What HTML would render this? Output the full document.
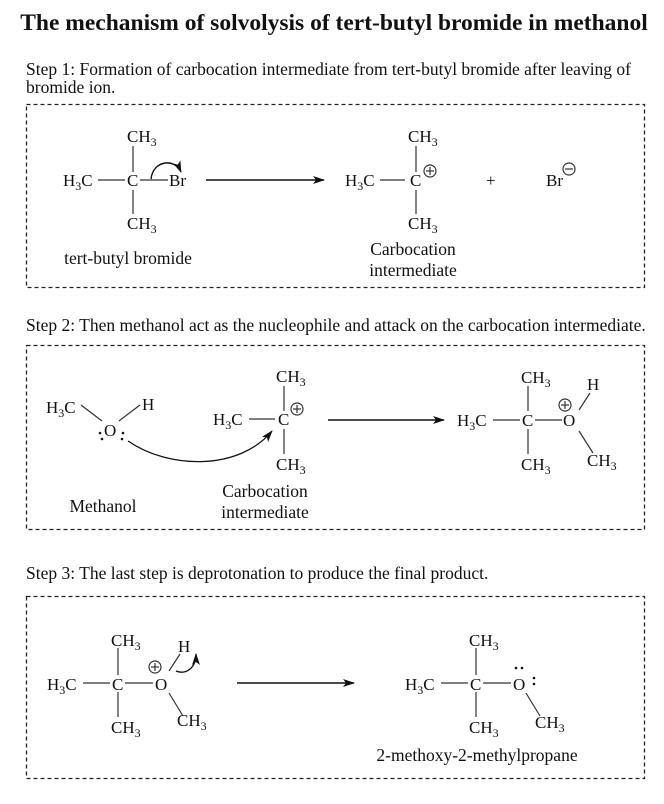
<!DOCTYPE html>
<html><head><meta charset="utf-8"><style>
html,body{margin:0;padding:0;background:#fff;}
svg{display:block;font-family:"Liberation Serif",serif;}
text{fill:#111;}
.a{font-size:17px;}
.s{font-size:12px;}
.t{font-size:17.5px;}
</style></head><body>
<svg width="664" height="804" viewBox="0 0 664 804" xmlns="http://www.w3.org/2000/svg">
<defs><marker id="ah" markerWidth="12" markerHeight="8" refX="11" refY="4" orient="auto" markerUnits="userSpaceOnUse"><path d="M0,0 L12,4 L0,8 L3,4z" fill="#111"/></marker></defs>
<text x="334" y="30" text-anchor="middle" font-size="23.5" font-weight="bold">The mechanism of solvolysis of tert-butyl bromide in methanol</text>
<text class="t" x="26" y="75">Step 1: Formation of carbocation intermediate from tert-butyl bromide after leaving of</text>
<text class="t" x="26" y="93">bromide ion.</text>
<rect x="26.5" y="104.5" width="618" height="183" fill="none" stroke="#222" stroke-width="1.3" stroke-dasharray="4,3"/>
<g stroke="#333" stroke-width="1.2" fill="none">
<line x1="98" y1="180" x2="125" y2="180"/><line x1="140" y1="180" x2="168" y2="180"/>
<line x1="133" y1="146" x2="133" y2="172"/><line x1="133" y1="190" x2="133" y2="214"/>
<path d="M151,179 C153,160 175,158 181,172" stroke="#111" stroke-width="1.4" marker-end="url(#ah)"/>
<line x1="206" y1="180" x2="324" y2="180" stroke="#111" stroke-width="1.5" marker-end="url(#ah)"/>
<line x1="380" y1="180" x2="405" y2="180"/>
<line x1="416" y1="146" x2="416" y2="172"/><line x1="416" y1="190" x2="416" y2="214"/>
<circle cx="430" cy="171" r="6"/><line x1="426" y1="171" x2="434" y2="171"/><line x1="430" y1="167" x2="430" y2="175"/>
<circle cx="569" cy="169" r="6"/><line x1="565" y1="169" x2="573" y2="169"/>
</g>
<text class="a" x="63" y="186">H<tspan class="s" dy="4">3</tspan><tspan dy="-4">C</tspan></text>
<text class="a" x="127" y="186">C</text>
<text class="a" x="169" y="186">Br</text>
<text class="a" x="127" y="142">CH<tspan class="s" dy="4">3</tspan></text>
<text class="a" x="127" y="229">CH<tspan class="s" dy="4">3</tspan></text>
<text class="a" x="345" y="186">H<tspan class="s" dy="4">3</tspan><tspan dy="-4">C</tspan></text>
<text class="a" x="410" y="186">C</text>
<text class="a" x="408" y="142">CH<tspan class="s" dy="4">3</tspan></text>
<text class="a" x="408" y="229">CH<tspan class="s" dy="4">3</tspan></text>
<text class="a" x="486" y="186">+</text>
<text class="a" x="546" y="186">Br</text>
<text class="t" x="128" y="264" text-anchor="middle">tert-butyl bromide</text>
<text class="t" x="413" y="255" text-anchor="middle">Carbocation</text>
<text class="t" x="413" y="276" text-anchor="middle">intermediate</text>

<text class="t" x="26" y="331">Step 2: Then methanol act as the nucleophile and attack on the carbocation intermediate.</text>
<rect x="26.5" y="345.5" width="618" height="184" fill="none" stroke="#222" stroke-width="1.3" stroke-dasharray="4,3"/>
<g stroke="#333" stroke-width="1.2" fill="none">
<line x1="81" y1="405" x2="102" y2="421"/><line x1="119" y1="421" x2="140" y2="405"/>
<path d="M128,441 C170,470 240,470 272,431" stroke="#111" stroke-width="1.3" marker-end="url(#ah)"/>
<line x1="249" y1="419" x2="275" y2="419"/>
<line x1="284" y1="386" x2="284" y2="411"/><line x1="284" y1="429" x2="284" y2="454"/>
<circle cx="297" cy="409" r="6"/><line x1="293" y1="409" x2="301" y2="409"/><line x1="297" y1="405" x2="297" y2="413"/>
<line x1="328" y1="420" x2="444" y2="420" stroke="#111" stroke-width="1.5" marker-end="url(#ah)"/>
<line x1="493" y1="420" x2="520" y2="420"/><line x1="535" y1="420" x2="562" y2="420"/>
<line x1="528" y1="386" x2="528" y2="411"/><line x1="528" y1="429" x2="528" y2="454"/>
<line x1="579" y1="410" x2="590" y2="393"/><line x1="579" y1="431" x2="593" y2="453"/>
<circle cx="565" cy="405" r="6"/><line x1="561" y1="405" x2="569" y2="405"/><line x1="565" y1="401" x2="565" y2="409"/>
</g>
<g fill="#111"><circle cx="100" cy="433" r="1.3"/><circle cx="102" cy="439" r="1.3"/><circle cx="123" cy="433" r="1.3"/><circle cx="122" cy="439" r="1.3"/></g>
<text class="a" x="46" y="413">H<tspan class="s" dy="4">3</tspan><tspan dy="-4">C</tspan></text>
<text class="a" x="104" y="436">O</text>
<text class="a" x="142" y="410">H</text>
<text class="t" x="103" y="512" text-anchor="middle">Methanol</text>
<text class="a" x="213" y="425">H<tspan class="s" dy="4">3</tspan><tspan dy="-4">C</tspan></text>
<text class="a" x="278" y="425">C</text>
<text class="a" x="276" y="382">CH<tspan class="s" dy="4">3</tspan></text>
<text class="a" x="276" y="470">CH<tspan class="s" dy="4">3</tspan></text>
<text class="t" x="265" y="497" text-anchor="middle">Carbocation</text>
<text class="t" x="265" y="518" text-anchor="middle">intermediate</text>
<text class="a" x="457" y="426">H<tspan class="s" dy="4">3</tspan><tspan dy="-4">C</tspan></text>
<text class="a" x="522" y="426">C</text>
<text class="a" x="563" y="426">O</text>
<text class="a" x="587" y="390">H</text>
<text class="a" x="521" y="383">CH<tspan class="s" dy="4">3</tspan></text>
<text class="a" x="521" y="470">CH<tspan class="s" dy="4">3</tspan></text>
<text class="a" x="587" y="466">CH<tspan class="s" dy="4">3</tspan></text>

<text class="t" x="26" y="579">Step 3: The last step is deprotonation to produce the final product.</text>
<rect x="26.5" y="596.5" width="618" height="182" fill="none" stroke="#222" stroke-width="1.3" stroke-dasharray="4,3"/>
<g stroke="#333" stroke-width="1.2" fill="none">
<line x1="83" y1="683" x2="110" y2="683"/><line x1="125" y1="683" x2="153" y2="683"/>
<line x1="118" y1="648" x2="118" y2="675"/><line x1="118" y1="692" x2="118" y2="717"/>
<line x1="169" y1="671" x2="180" y2="654"/><line x1="169" y1="693" x2="183" y2="716"/>
<circle cx="155" cy="667" r="6"/><line x1="151" y1="667" x2="159" y2="667"/><line x1="155" y1="663" x2="155" y2="671"/>
<path d="M176,671 C186,675 196,668 196,654" stroke="#111" stroke-width="1.3" marker-end="url(#ah)"/>
<line x1="237" y1="683" x2="354" y2="683" stroke="#111" stroke-width="1.5" marker-end="url(#ah)"/>
<line x1="441" y1="683" x2="468" y2="683"/><line x1="483" y1="683" x2="511" y2="683"/>
<line x1="476" y1="648" x2="476" y2="675"/><line x1="476" y1="692" x2="476" y2="717"/>
<line x1="526" y1="693" x2="540" y2="716"/>
</g>
<g fill="#111"><circle cx="516" cy="668" r="1.3"/><circle cx="522" cy="668" r="1.3"/><circle cx="534" cy="678" r="1.3"/><circle cx="534" cy="684" r="1.3"/></g>
<text class="a" x="47" y="690">H<tspan class="s" dy="4">3</tspan><tspan dy="-4">C</tspan></text>
<text class="a" x="112" y="690">C</text>
<text class="a" x="155" y="690">O</text>
<text class="a" x="178" y="652">H</text>
<text class="a" x="111" y="646">CH<tspan class="s" dy="4">3</tspan></text>
<text class="a" x="111" y="733">CH<tspan class="s" dy="4">3</tspan></text>
<text class="a" x="177" y="726">CH<tspan class="s" dy="4">3</tspan></text>
<text class="a" x="405" y="690">H<tspan class="s" dy="4">3</tspan><tspan dy="-4">C</tspan></text>
<text class="a" x="470" y="690">C</text>
<text class="a" x="513" y="690">O</text>
<text class="a" x="469" y="646">CH<tspan class="s" dy="4">3</tspan></text>
<text class="a" x="469" y="733">CH<tspan class="s" dy="4">3</tspan></text>
<text class="a" x="535" y="728">CH<tspan class="s" dy="4">3</tspan></text>
<text class="t" x="477" y="761" text-anchor="middle">2-methoxy-2-methylpropane</text>
</svg>
</body></html>
